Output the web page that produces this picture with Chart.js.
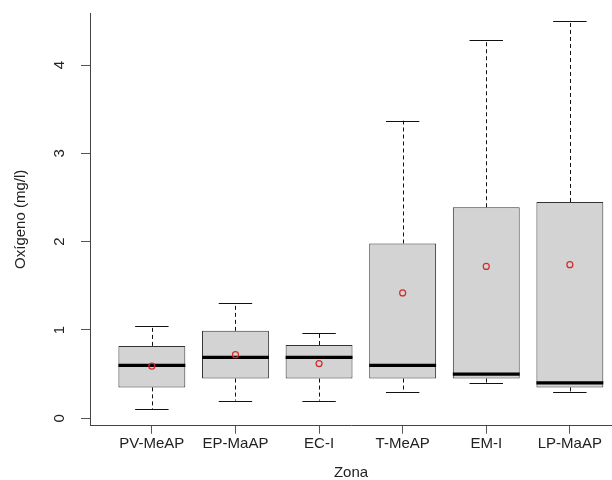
<!DOCTYPE html>
<html>
<head>
<meta charset="utf-8">
<script src="https://cdn.jsdelivr.net/npm/chart.js@4"></script>
<style>
  html, body { margin: 0; padding: 0; background: #fff; }
  #wrap { width: 612px; height: 480px; }
</style>
</head>
<body>
<div id="wrap"><canvas id="c" width="612" height="480"></canvas></div>
<script>
// Data
const categories = ['PV-MeAP', 'EP-MaAP', 'EC-I', 'T-MeAP', 'EM-I', 'LP-MaAP'];
const whiskerLow  = [0.10, 0.20, 0.20, 0.30, 0.40, 0.30];
const q1          = [0.35, 0.45, 0.45, 0.45, 0.45, 0.35];
const medians     = [0.60, 0.69, 0.69, 0.60, 0.50, 0.40];
const q3          = [0.82, 0.99, 0.83, 1.98, 2.39, 2.45];
const whiskerHigh = [1.05, 1.30, 0.97, 3.37, 4.28, 4.50];
const means       = [0.59, 0.72, 0.62, 1.42, 1.72, 1.74];
const yTicks      = [0, 1, 2, 3, 4];

const FONT = 'Liberation Sans, Arial, Helvetica, sans-serif';
const TXT = '#222';

const boxData = categories.map((c, i) => ({ x: i + 1, y: [q1[i], q3[i]] }));
const meanData = categories.map((c, i) => ({ x: i + 1, y: means[i] }));

const fixArea = {
  id: 'fixArea',
  afterLayout(chart) {
    const xs = chart.scales.x;
    chart.chartArea.right = 612;
    chart.chartArea.width = 612 - chart.chartArea.left;
    xs.right = 612;
    xs.width = xs.right - xs.left;
    xs.configure();
  }
};

const boxPlugin = {
  id: 'boxExtras',
  beforeDatasetsDraw(chart) {
    const ctx = chart.ctx, xs = chart.scales.x, ys = chart.scales.y;
    ctx.save();
    ctx.strokeStyle = '#111';
    ctx.lineWidth = 1;
    categories.forEach((c, i) => {
      const xc = Math.round(xs.getPixelForValue(i + 1)) + 0.5;
      const xl = xs.getPixelForValue(i + 1 - 0.2), xr = xs.getPixelForValue(i + 1 + 0.2);
      ctx.setLineDash([4, 3]);
      ctx.beginPath();
      ctx.moveTo(xc, ys.getPixelForValue(q3[i]));
      ctx.lineTo(xc, ys.getPixelForValue(whiskerHigh[i]));
      ctx.moveTo(xc, ys.getPixelForValue(q1[i]));
      ctx.lineTo(xc, ys.getPixelForValue(whiskerLow[i]));
      ctx.stroke();
      ctx.setLineDash([]);
      ctx.beginPath();
      const yh = Math.round(ys.getPixelForValue(whiskerHigh[i])) + 0.5;
      const yl = Math.round(ys.getPixelForValue(whiskerLow[i])) + 0.5;
      ctx.moveTo(xl, yh); ctx.lineTo(xr, yh);
      ctx.moveTo(xl, yl); ctx.lineTo(xr, yl);
      ctx.stroke();
    });
    ctx.restore();
  },
  afterDatasetDraw(chart, args) {
    if (args.index !== 0) return;
    const ctx = chart.ctx, xs = chart.scales.x, ys = chart.scales.y;
    ctx.save();
    ctx.strokeStyle = '#000';
    ctx.lineWidth = 3.2;
    categories.forEach((c, i) => {
      const xl = xs.getPixelForValue(i + 1 - 0.4), xr = xs.getPixelForValue(i + 1 + 0.4);
      const y = ys.getPixelForValue(medians[i]);
      ctx.beginPath();
      ctx.moveTo(xl, y); ctx.lineTo(xr, y);
      ctx.stroke();
    });
    ctx.restore();
  }
};

new Chart(document.getElementById('c'), {
  type: 'bar',
  data: {
    datasets: [
      {
        type: 'bar',
        data: boxData,
        backgroundColor: '#d3d3d3',
        borderColor: '#333',
        borderWidth: 1,
        borderSkipped: false,
        barPercentage: 0.8,
        categoryPercentage: 1,
        order: 2
      },
      {
        type: 'line',
        data: meanData,
        showLine: false,
        pointStyle: 'circle',
        pointRadius: 3,
        pointBorderWidth: 1.2,
        pointBorderColor: '#d42a2a',
        pointBackgroundColor: 'rgba(0,0,0,0)',
        order: 1
      }
    ]
  },
  options: {
    responsive: false,
    animation: false,
    devicePixelRatio: 1,
    layout: { autoPadding: false, padding: { top: 13, right: 0, left: 0, bottom: 0 } },
    plugins: { legend: { display: false }, tooltip: { enabled: false } },
    scales: {
      x: {
        type: 'linear',
        offset: false,
        min: 0.26,
        max: 6.504,
        afterBuildTicks: (s) => { s.ticks = categories.map((c, i) => ({ value: i + 1 })); },
        afterFit: (s) => { s.height = 54.3; s.paddingLeft = 0; s.paddingRight = 0; },
        grid: { display: true, offset: false, drawOnChartArea: false, drawTicks: true, tickLength: 8, color: '#555' },
        border: { display: true, color: '#444', width: 1 },
        ticks: {
          autoSkip: false,
          maxRotation: 0,
          padding: 1,
          color: TXT,
          font: { family: FONT, size: 15 },
          callback: (v) => categories[v - 1]
        },
        title: {
          display: true,
          text: 'Zona',
          color: TXT,
          font: { family: FONT, size: 15, lineHeight: 1 },
          padding: { top: 0, bottom: 0 }
        }
      },
      y: {
        type: 'linear',
        min: -0.084,
        max: 4.59,
        afterBuildTicks: (s) => { s.ticks = yTicks.map(v => ({ value: v })); },
        afterFit: (s) => { s.width = 90; s.paddingTop = 0; s.paddingBottom = 0; },
        grid: { display: true, drawOnChartArea: false, drawTicks: true, tickLength: 9, color: '#555' },
        border: { display: true, color: '#444', width: 1 },
        ticks: {
          minRotation: 90,
          maxRotation: 90,
          crossAlign: 'center',
          padding: 17,
          color: TXT,
          font: { family: FONT, size: 15 },
          callback: (v) => String(v)
        },
        title: {
          display: true,
          text: 'Oxígeno (mg/l)',
          color: TXT,
          font: { family: FONT, size: 15 },
          padding: { top: 12, bottom: 0 }
        }
      }
    }
  },
  plugins: [fixArea, boxPlugin]
});
</script>
</body>
</html>
